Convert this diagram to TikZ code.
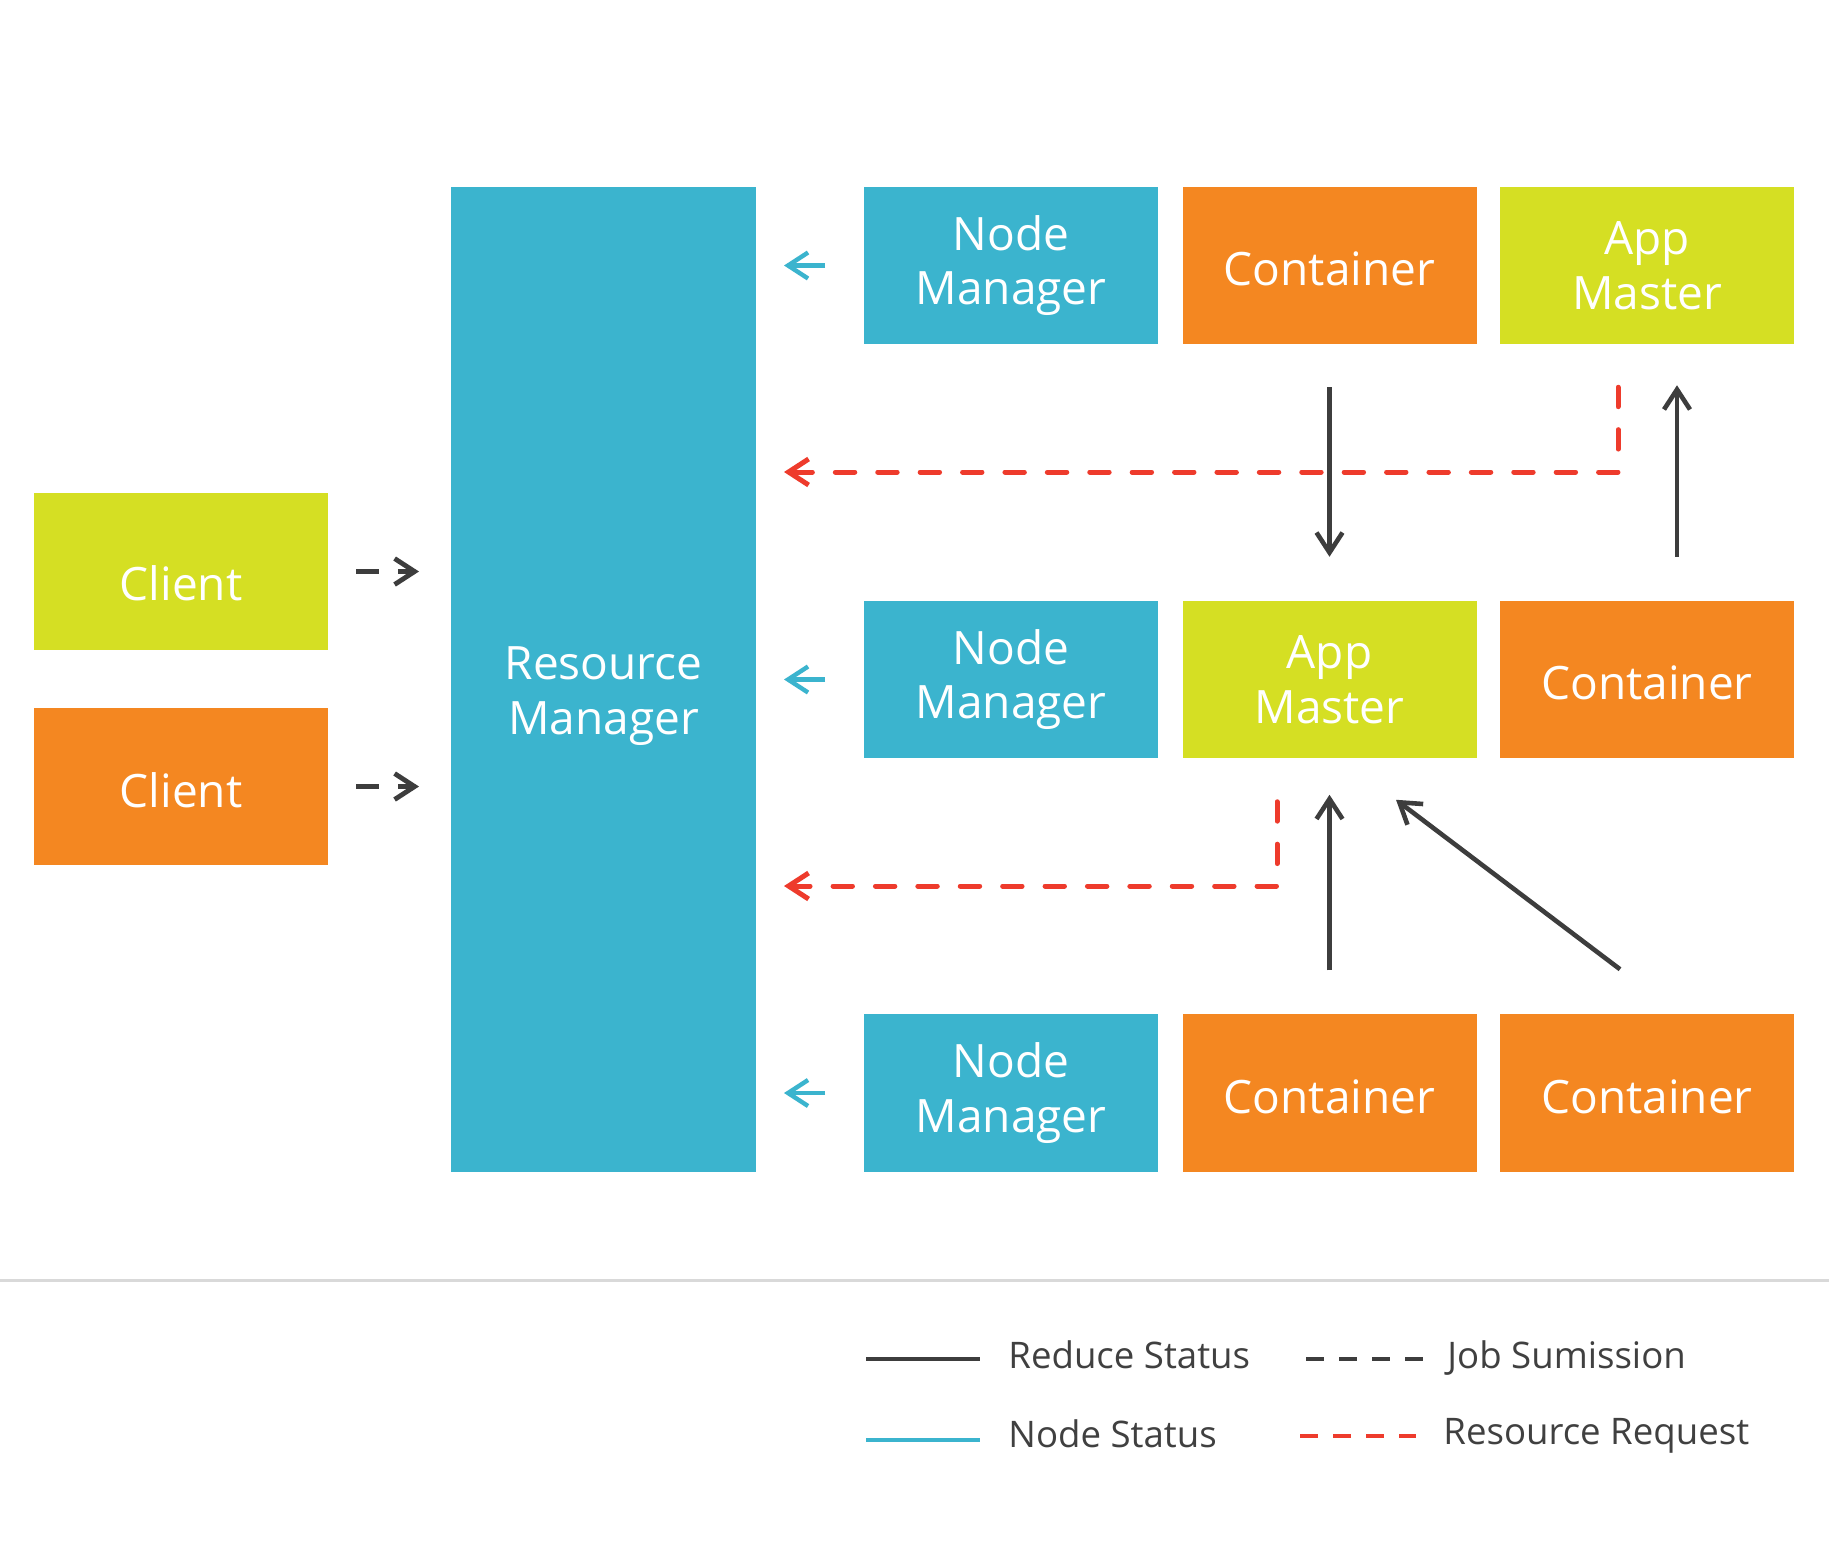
\documentclass[tikz,border=0pt]{standalone}
\usepackage{fontspec}
\setmainfont{Open Sans}
\usetikzlibrary{arrows.meta}
\definecolor{cyanc}{HTML}{3BB4CE}
\definecolor{orangec}{HTML}{F48721}
\definecolor{limec}{HTML}{D5DF23}
\definecolor{darkc}{HTML}{3D3D3D}
\definecolor{redc}{HTML}{EE3B2C}
\definecolor{sepc}{HTML}{D9D9D9}
\definecolor{legtext}{HTML}{404040}
\newcommand{\lowered}[2]{\raisebox{#1}[\height][\depth]{#2}}
\begin{document}
\begin{tikzpicture}[x=0.5pt,y=-0.5pt,
  boxtext/.style={text=white, align=center, inner sep=0pt, font=\fontsize{23}{27.35}\selectfont},
  box/.style={rectangle, boxtext, outer sep=0pt, minimum width=147pt, minimum height=78.75pt},
  cyanbox/.style={box, fill=cyanc},
  orangebox/.style={box, fill=orangec},
  limebox/.style={box, fill=limec},
  barb/.style={-{Straight Barb[length=10pt,width=13pt]}},
  reduce/.style={draw=darkc, line width=2.3pt, barb},
  nodestat/.style={draw=cyanc, line width=2.2pt, barb},
  jobsub/.style={draw=darkc, line width=2.4pt, dash pattern=on 11.5pt off 9.5pt, barb},
  resreq/.style={draw=redc, line width=2.5pt, line cap=round, dash pattern=on 9.7pt off 11.5pt, barb},
  legline/.style={line width=2pt},
  legtxt/.style={anchor=base west, inner sep=0pt, text=legtext, font=\fontsize{18.3}{22}\selectfont}
]
\fill[white] (0,0) rectangle (1829,1549);
\useasboundingbox (0,0) rectangle (1829,1549);

% clients
\node[limebox] (cl1) at (181,571.5) {\lowered{-5.75pt}{Client}};
\node[orangebox] (cl2) at (181,786.5) {\lowered{-1.75pt}{Client}};

% resource manager
\node[rectangle, fill=cyanc, inner sep=0pt, outer sep=0pt, minimum width=152.5pt, minimum height=492.5pt] (rm) at (603.5,679.5) {};
\node[boxtext] (rmtext) at ([yshift=-8.4pt]rm.center) {Resource\\Manager};

% row 1
\node[cyanbox] (nm1) at (1011,265.5) {Node\\Manager};
\node[orangebox] (c12) at (1329.5,265.5) {\lowered{-1.75pt}{Container}};
\node[limebox] (am1) at (1647,265.5) {App\\Master};
% row 2
\node[cyanbox] (nm2) at (1011,679.5) {Node\\Manager};
\node[limebox] (am2) at (1329.5,679.5) {App\\Master};
\node[orangebox] (c23) at (1647,679.5) {\lowered{-1.75pt}{Container}};
% row 3
\node[cyanbox] (nm3) at (1011,1093) {Node\\Manager};
\node[orangebox] (c32) at (1329.5,1093) {\lowered{-1.75pt}{Container}};
\node[orangebox] (c33) at (1647,1093) {\lowered{-1.75pt}{Container}};

% job submission
\draw[jobsub, shorten <=14pt, shorten >=16pt] (cl1.east) -- (cl1.east -| rm.west);
\draw[jobsub, shorten <=14pt, shorten >=16pt] (cl2.east) -- (cl2.east -| rm.west);

% node status
\draw[nodestat, shorten <=19.5pt, shorten >=14pt] (nm1.west) -- (nm1.west -| rm.east);
\draw[nodestat, shorten <=19.5pt, shorten >=14pt] (nm2.west) -- (nm2.west -| rm.east);
\draw[nodestat, shorten <=19.5pt, shorten >=14pt] (nm3.west) -- (nm3.west -| rm.east);

% resource requests
\coordinate (rq1) at (784,472);
\coordinate (rq2) at (784,886);
\draw[resreq] ([shift={(-14.5pt,-21.5pt)}]am1.south) |- (rq1);
\draw[resreq] ([shift={(-26.25pt,-21.75pt)}]am2.south) |- (rq2);

% reduce status
\draw[reduce, shorten <=21.5pt, shorten >=22pt] (c12.south) -- (am2.north);
\draw[reduce, shorten <=22pt, shorten >=20.5pt] ([xshift=15pt]c23.north) -- ([xshift=15pt]am1.south);
\draw[reduce, shorten <=22pt, shorten >=18.25pt] (c32.north) -- (am2.south);
\draw[reduce] ([shift={(-13.5pt,22.5pt)}]c33.north) -- ([shift={(33.25pt,-20.75pt)}]am2.south);

% separator
\draw[sepc, line width=1.5pt] (0,1280) -- (1829,1280);

% legend
\draw[legline, darkc] (866,1359) -- (980,1359);
\node[legtxt] (l1) at (1008,1368) {Reduce Status};
\draw[legline, darkc, dash pattern=on 9pt off 7.5pt] (1306,1359) -- (1423,1359);
\node[legtxt] (l2) at (1447,1368) {Job Sumission};
\draw[legline, cyanc] (866,1440) -- (980,1440);
\node[legtxt] (l3) at (1008,1447.5) {Node Status};
\draw[legline, redc, dash pattern=on 9pt off 7.5pt] (1300,1436) -- (1416,1436);
\node[legtxt] (l4) at (1443,1444) {Resource Request};
\end{tikzpicture}
\end{document}
